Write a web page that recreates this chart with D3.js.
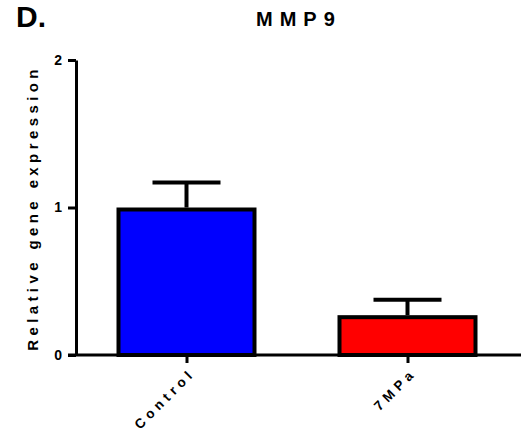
<!DOCTYPE html>
<html>
<head>
<meta charset="utf-8">
<script src="https://cdn.jsdelivr.net/npm/d3@7"></script>
<style>
  body { margin: 0; background: #fff; }
  text { font-family: Arial, "Liberation Sans", sans-serif; font-weight: bold; fill: #000; }
</style>
</head>
<body>
<svg id="chart" width="526" height="444"></svg>
<script>
// data
const groups = ["Control", "7MPa"];
const means = [1.0, 0.27];
const errors = [0.17, 0.105];
const colors = ["#0000ff", "#ff0000"];
const yTicks = [0, 1, 2];

const svg = d3.select("#chart");
const font = "Arial, 'Liberation Sans', sans-serif";

const x = d3.scalePoint().domain(groups).range([76, 518]).padding(0.5);
const y = d3.scaleLinear().domain([0, 2]).range([355, 60]);
const barWidth = 140;
const capWidth = 68;

// panel letter and title
svg.append("text").attr("x", 16).attr("y", 27)
  .style("font-size", "30px").text("D.");
svg.append("text").attr("x", 256).attr("y", 26)
  .style("font-size", "20px").style("letter-spacing", "7px")
  .text("MMP9");

// error bars (drawn under bars)
const err = svg.append("g").attr("stroke", "#000").attr("stroke-width", 4);
groups.forEach((g, i) => {
  err.append("line")
    .attr("x1", x(g)).attr("x2", x(g))
    .attr("y1", y(means[i])).attr("y2", y(means[i] + errors[i]));
  err.append("line")
    .attr("x1", x(g) - capWidth / 2).attr("x2", x(g) + capWidth / 2)
    .attr("y1", y(means[i] + errors[i])).attr("y2", y(means[i] + errors[i]));
});

// bars
svg.append("g").selectAll("rect")
  .data(groups)
  .enter().append("rect")
  .attr("x", d => x(d) - barWidth / 2 + 2)
  .attr("y", (d, i) => y(means[i]) + 2)
  .attr("width", barWidth - 4)
  .attr("height", (d, i) => y(0) - y(means[i]) - 2)
  .attr("fill", (d, i) => colors[i])
  .attr("stroke", "#000")
  .attr("stroke-width", 4);

// y axis
const yAxis = svg.append("g")
  .attr("transform", "translate(76,0)")
  .call(d3.axisLeft(y).tickValues(yTicks).tickFormat(d3.format("d")).tickSize(8).tickSizeOuter(0));
yAxis.select(".domain").attr("stroke-width", 3);
yAxis.selectAll(".tick line").attr("stroke-width", 3);
yAxis.selectAll(".tick text").attr("x", -14)
  .style("font-size", "14px").style("font-family", font);

// x axis
const xAxis = svg.append("g")
  .attr("transform", "translate(0,355)")
  .call(d3.axisBottom(x).tickSize(8).tickSizeOuter(0));
xAxis.select(".domain").attr("d", "M68,0H521").attr("stroke-width", 3);
xAxis.selectAll(".tick line").attr("stroke-width", 3);
xAxis.selectAll(".tick text")
  .attr("text-anchor", "end")
  .attr("x", 0).attr("y", 0).attr("dy", 0).attr("dx", "4.5px")
  .attr("transform", "translate(6,22) rotate(-45)")
  .style("font-size", "13.5px").style("letter-spacing", "4.5px")
  .style("font-family", font);

// y axis label
svg.append("text")
  .attr("transform", "translate(38,208) rotate(-90)")
  .attr("text-anchor", "middle")
  .style("font-size", "15px").style("letter-spacing", "4.4px")
  .text("Relative gene expression");
</script>
</body>
</html>
